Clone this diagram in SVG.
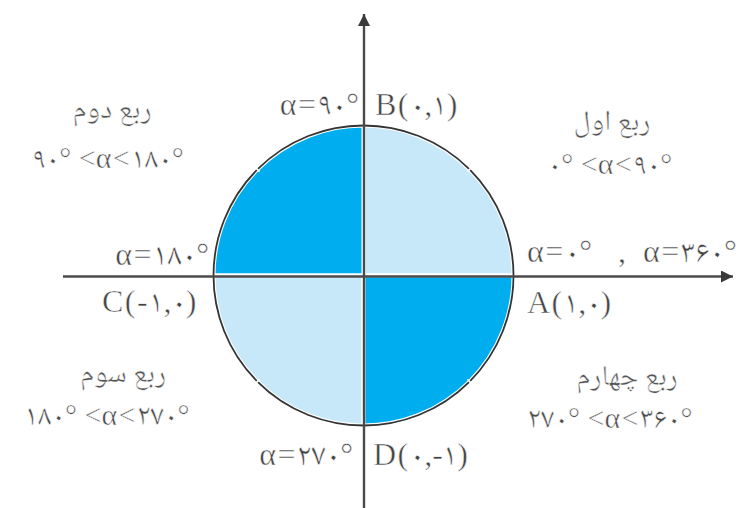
<svg xmlns="http://www.w3.org/2000/svg" width="743" height="508" viewBox="0 0 743 508">
<style>
.lt{fill:#C6E8F8}
.dk{fill:#00AEEF}
.sec{stroke:#fff;stroke-width:4}
.ax{stroke:#4a4a4a;stroke-width:2.4;fill:none}
.lbl{font-family:"Liberation Serif","Noto Naskh Arabic","Noto Sans Arabic","DejaVu Sans",serif;font-size:32px;letter-spacing:1.5px;fill:#444;stroke:#fff;stroke-width:0.5;direction:ltr}
.q{font-family:"Noto Naskh Arabic","Noto Sans Arabic","DejaVu Sans",sans-serif;font-size:29px;letter-spacing:0.5px;font-weight:300;fill:#555;stroke:#fff;stroke-width:0.5}
.ineq{font-family:"Liberation Serif","Noto Naskh Arabic","Noto Sans Arabic","DejaVu Sans",serif;font-size:30px;letter-spacing:1.5px;fill:#4a4a4a;stroke:#fff;stroke-width:0.5;direction:ltr}
</style>
<defs>
<marker id="arr" markerUnits="userSpaceOnUse" markerWidth="14" markerHeight="14" refX="12" refY="6" orient="auto">
<path d="M0,0 L12,6 L0,12 Z" fill="#3a3a3a"/>
</marker>
</defs>
<rect width="743" height="508" fill="#fff"/>
<g id="circle">
<path class="lt sec" d="M363.5,275.5 L363.5,125.5 A150,150 0 0 1 513.5,275.5 Z"/>
<path class="dk sec" d="M363.5,275.5 L213.5,275.5 A150,150 0 0 1 363.5,125.5 Z"/>
<path class="lt sec" d="M363.5,275.5 L363.5,425.5 A150,150 0 0 1 213.5,275.5 Z"/>
<path class="dk sec" d="M363.5,275.5 L513.5,275.5 A150,150 0 0 1 363.5,425.5 Z"/>
<circle cx="363.5" cy="275.5" r="150" fill="none" stroke="#333" stroke-width="1.8"/>
<g stroke="#fff" stroke-width="1.6">
<line x1="253.2" y1="165.2" x2="259.6" y2="171.6"/>
<line x1="473.8" y1="165.2" x2="467.4" y2="171.6"/>
<line x1="253.2" y1="385.8" x2="259.6" y2="379.4"/>
<line x1="473.8" y1="385.8" x2="467.4" y2="379.4"/>
</g>
</g>
<g id="connectors">
<line class="ax" x1="63" y1="276.5" x2="733" y2="276.5" marker-end="url(#arr)"/>
<line class="ax" x1="364" y1="508" x2="364" y2="14" marker-end="url(#arr)"/>
</g>
<g id="labelB">
<text class="lbl" x="359" y="115" text-anchor="end">α=۹۰°</text>
<text class="lbl" x="375" y="115">B(۰,۱)</text>
</g>
<g id="labelA">
<text class="lbl" y="262"><tspan x="527">α=۰°</tspan><tspan x="618">,</tspan><tspan x="643">α=۳۶۰°</tspan></text>
<text class="lbl" x="527" y="313">A(۱,۰)</text>
</g>
<g id="labelC">
<text class="lbl" x="209" y="265" text-anchor="end">α=۱۸۰°</text>
<text class="lbl" x="198" y="312" text-anchor="end">C(-۱,۰)</text>
</g>
<g id="labelD">
<text class="lbl" x="353" y="465" text-anchor="end">α=۲۷۰°</text>
<text class="lbl" x="373" y="465">D(۰,-۱)</text>
</g>
<g id="q1">
<text class="q" x="612" y="130" text-anchor="middle">ربع اول</text>
<text class="ineq" x="610" y="174" text-anchor="middle">۰° &lt;α&lt;۹۰°</text>
</g>
<g id="q2">
<text class="q" x="112" y="118" text-anchor="middle">ربع دوم</text>
<text class="ineq" x="108" y="168" text-anchor="middle">۹۰° &lt;α&lt;۱۸۰°</text>
</g>
<g id="q3">
<text class="q" x="123" y="382" text-anchor="middle">ربع سوم</text>
<text class="ineq" x="107" y="425" text-anchor="middle">۱۸۰° &lt;α&lt;۲۷۰°</text>
</g>
<g id="q4">
<text class="q" x="627" y="385" text-anchor="middle">ربع چهارم</text>
<text class="ineq" x="610" y="428" text-anchor="middle">۲۷۰° &lt;α&lt;۳۶۰°</text>
</g>
</svg>
